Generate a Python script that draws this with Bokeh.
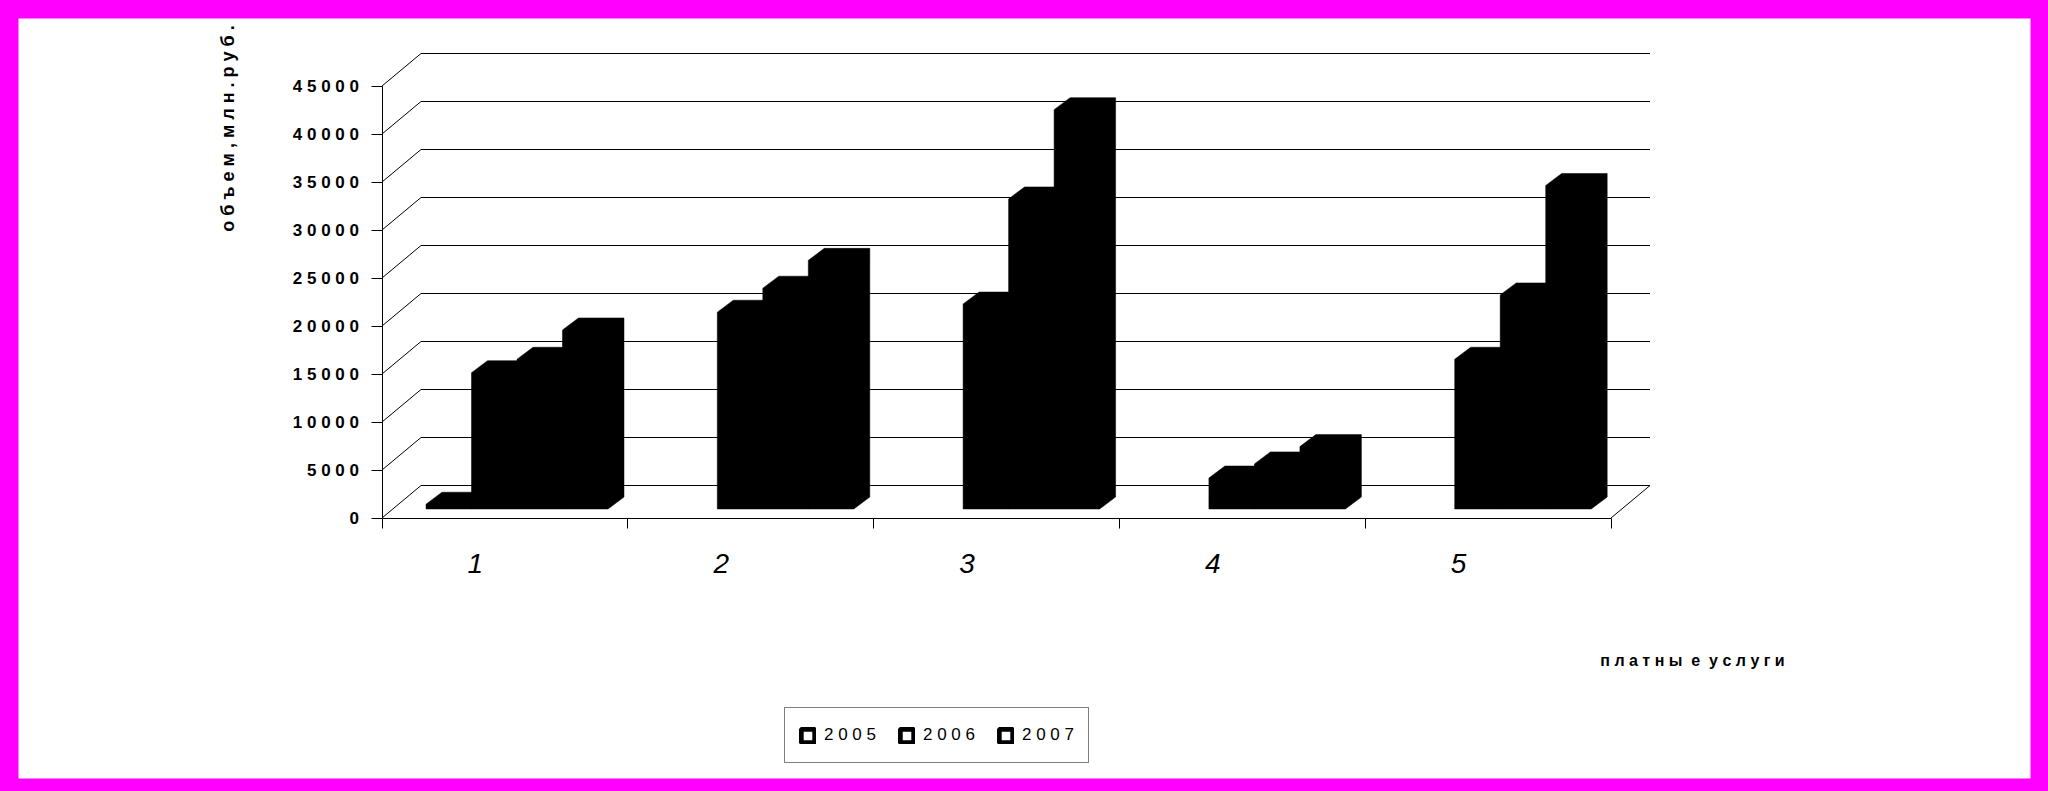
from bokeh.plotting import figure
from bokeh.models import (Range1d, LinearAxis, FixedTicker, Legend, LegendItem, Label,
                          GlobalInlineStyleSheet)
from bokeh.embed import file_html
from bokeh.resources import INLINE

categories = ["1", "2", "3", "4", "5"]
series_hidden = [500, None, None, None, None]
series_2005 = [14200, 20500, 21350, 3230, 15600]
series_2006 = [15600, 23000, 32300, 4700, 22300]
series_2007 = [18650, 25900, 41600, 6500, 33700]
legend_years = ["2005", "2006", "2007"]
y_ticks = [0, 5000, 10000, 15000, 20000, 25000, 30000, 35000, 40000, 45000]
y_title = "о б ъ е м , м л н . р у б ."
x_title = "п л а т н ы\u00a0 е\u00a0 у с л у г и"

FONT = "Liberation Sans"
MAGENTA = "#ff00ff"

# scale: pixels per data unit of the reference's axes
PX_CAT = 245.8
PX_VAL = 0.0096
X0_PX, Y0_PX = 381.5, 517.5
F_L, F_R, F_T, F_B = 18, 2030, 18, 778
dx_wall, dy_wall = 39 / PX_CAT, 32.5 / PX_VAL
dx_bar, dy_bar = 16 / PX_CAT, 12 / PX_VAL
floor = 9 / PX_VAL
bar_w = 45.5 / PX_CAT
slot0 = 44 / PX_CAT


def xd(px):
    return (px - X0_PX) / PX_CAT


def yd(py):
    return (Y0_PX - py) / PX_VAL


p = figure(width=2048, height=791, x_axis_type=None, y_axis_type=None, toolbar_location=None,
           output_backend="svg", x_range=Range1d(xd(F_L), xd(F_R)), y_range=Range1d(yd(F_B), yd(F_T)),
           min_border_left=18, min_border_right=18, min_border_top=18, min_border_bottom=13,
           background_fill_color="white", border_fill_color=MAGENTA, outline_line_color=None)
p.grid.visible = False
p.stylesheets = [GlobalInlineStyleSheet(css="html,body{background:#ff00ff;}")]

# wall gridlines (side edge and back wall)
n = len(categories)
p.multi_line(xs=[[0, dx_wall, n + dx_wall] for v in y_ticks],
             ys=[[v, v + dy_wall, v + dy_wall] for v in y_ticks], line_color="black", line_width=1)
p.line(x=[n, n + dx_wall], y=[0, dy_wall], line_color="black", line_width=1)


def bar_shape(cat, slot, v):
    x0 = cat + slot0 + slot * bar_w
    x1 = x0 + bar_w
    top = floor + v
    return ([x0, x0, x0 + dx_bar, x1 + dx_bar, x1 + dx_bar, x1],
            [floor, top, top + dy_bar, top + dy_bar, floor + dy_bar, floor])


for slot, vals in enumerate([series_hidden, series_2005, series_2006, series_2007]):
    shapes = [bar_shape(c, slot, v) for c, v in enumerate(vals) if v is not None]
    p.patches(xs=[s[0] for s in shapes], ys=[s[1] for s in shapes], fill_color="black", line_color="black",
              line_width=0.5)

# axes
yax = LinearAxis(fixed_location=0, ticker=FixedTicker(ticks=y_ticks), bounds=(0, 45000),
                 major_label_overrides={v: " ".join(str(v)) for v in y_ticks},
                 major_tick_out=11, major_tick_in=0, minor_tick_line_color=None,
                 major_label_standoff=12, axis_line_color="black", major_tick_line_color="black",
                 major_label_text_font=FONT, major_label_text_font_style="bold",
                 major_label_text_font_size="17px", major_label_text_color="black")
p.add_layout(yax, "left")

xax = LinearAxis(fixed_location=0, ticker=FixedTicker(ticks=list(range(n + 1))), bounds=(0, n),
                 major_tick_out=10, major_tick_in=0, minor_tick_line_color=None,
                 axis_line_color="black", major_tick_line_color="black",
                 major_label_text_color=None, major_label_text_font_size="1px")
p.add_layout(xax, "below")

cat_ticks = [i + 0.38 for i in range(n)]
cax = LinearAxis(fixed_location=0, ticker=FixedTicker(ticks=cat_ticks), axis_line_color=None,
                 major_tick_line_color=None, minor_tick_line_color=None,
                 major_label_overrides=dict(zip(cat_ticks, categories)), major_label_standoff=30,
                 major_label_text_font=FONT, major_label_text_font_style="italic",
                 major_label_text_font_size="28px", major_label_text_color="black")
p.add_layout(cax, "below")

# titles
p.add_layout(Label(x=xd(227), y=yd(128), text=y_title, angle=90, angle_units="deg", text_align="center",
                   text_baseline="alphabetic", text_font=FONT, text_font_style="bold",
                   text_font_size="18px", text_color="black"))
p.add_layout(Label(x=xd(1692), y=yd(660), text=x_title, text_align="center", text_baseline="alphabetic",
                   text_font=FONT, text_font_style="bold", text_font_size="16px", text_color="black"))

# legend
nan = float("nan")
items = []
for y in legend_years:
    r = p.quad(left=[nan], right=[nan], top=[nan], bottom=[nan], fill_color="white", line_color="black",
               line_width=5)
    items.append(LegendItem(label=" ".join(y), renderers=[r]))
legend = Legend(items=items, orientation="horizontal", location=(766, 15), glyph_width=17, glyph_height=17,
                label_standoff=8, spacing=22, padding=14, margin=0, label_height=26,
                label_text_font=FONT, label_text_font_size="17px", label_text_color="black",
                border_line_color="black", border_line_width=1, background_fill_color="white",
                background_fill_alpha=1)
p.add_layout(legend, "center")

open("out.html", "w").write(file_html(p, INLINE))
